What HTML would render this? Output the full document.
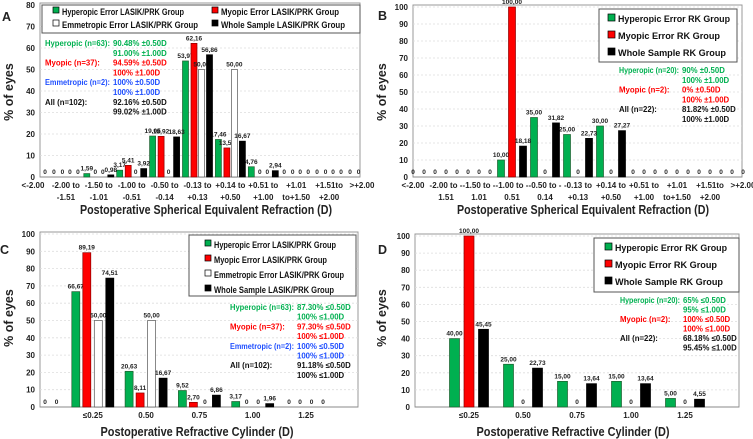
<!DOCTYPE html>
<html><head><meta charset="utf-8">
<style>
html,body{margin:0;padding:0;background:#fff;}
svg{display:block;font-family:"Liberation Sans",sans-serif;}
.tk{font-size:8px;font-weight:bold;fill:#222;}
.vl{font-size:6.5px;font-weight:bold;fill:#222;}
.ttl{font-size:12.5px;font-weight:bold;fill:#222;}
.lg{font-size:9.5px;font-weight:bold;fill:#111;}
.an{font-size:7.8px;font-weight:bold;}
</style></head>
<body>
<svg id="chart" width="753" height="439" viewBox="0 0 753 439"></svg>
<script>
// ---- Data ----
const catsSE = ["<-2.00","-2.00 to|-1.51","-1.50 to|-1.01","-1.00 to|-0.51","-0.50 to|-0.14","-0.13 to|+0.13","+0.14 to|+0.50","+0.51 to|+1.00","+1.01|to+1.50","+1.51to|+2.00",">+2.00"];
const catsSEb = ["<-2.00","-2.00 to -|1.51","-1.50 to -|1.01","-1.00 to -|0.51","-0.50 to -|0.14","-0.13 to|+0.13","+0.14 to|+0.50","+0.51 to|+1.00","+1.01|to+1.50","+1.51to|+2.00",">+2.00"];
const catsCyl = ["","≤0.25","0.50","0.75","1.00","1.25"];
const catsCylD = ["","≤0.25","0.50","0.75","1.00","1.25"];
const ticksA = [0,10,20,30,40,50,60,70,80];
const ticks100 = [0,10,20,30,40,50,60,70,80,90,100];

const aHyper = [0,0,1.59,3.17,19.05,53.97,17.46,4.76,0,0,0];
const aMyop  = [0,0,0,5.41,18.92,62.16,13.51,0,0,0,0];
const aEmm   = [0,0,0,0,0,50.00,50.00,0,0,0,0];
const aAll   = [0,0,0.98,3.92,18.63,56.86,16.67,2.94,0,0,0];

const bHyper = [0,0,0,10.00,35.00,25.00,30.00,0,0,0,0];
const bMyop  = [0,0,0,100.00,0,0,0,0,0,0,0];
const bAll   = [0,0,0,18.18,31.82,22.73,27.27,0,0,0,0];

const cHyper = [0,66.67,20.63,9.52,3.17,0];
const cMyop  = [0,89.19,8.11,2.70,0,0];
const cEmm   = [0,50.00,50.00,0,0,0];
const cAll   = [0,74.51,16.67,6.86,1.96,0];

const dHyper = [null,40.00,25.00,15.00,15.00,5.00];
const dMyop  = [null,100.00,0,0,0,0];
const dAll   = [null,45.45,22.73,13.64,13.64,4.55];

const NS="http://www.w3.org/2000/svg";
const svg=document.getElementById('chart');
function mk(tag,attrs,parent,text){const e=document.createElementNS(NS,tag);for(const k in attrs)e.setAttribute(k,attrs[k]);if(text!==undefined)e.textContent=text;(parent||svg).appendChild(e);return e;}
function fmt(v){return v===0?"0":v.toFixed(2).replace('.',',');}
function fit(el,maxw){const w=el.getComputedTextLength();if(w>maxw){el.setAttribute('textLength',maxw);el.setAttribute('lengthAdjust','spacingAndGlyphs');}}
const COL={g:"#00b050",r:"#ff0000",w:"#ffffff",k:"#000000"};
const STR={g:"#1f5f2f",r:"#8b0000",w:"#555",k:"#000"};

function panel(p){
  const g=mk('g',{});
  
  
  const ymap=v=>p.y0-(v/p.ymax)*(p.y0-p.y1);
  const xmap=i=>p.c0+i*p.cw;
  const fr=mk('rect',{x:p.xl,y:p.y1-2,width:p.xr-p.xl,height:p.y0-p.y1+2,fill:'none',stroke:'#999','stroke-width':1},g);
  
  p.ticks.forEach(t=>{
    const y=ymap(t);
    if(t>0){const gl=mk('line',{x1:p.xl,x2:p.xr,y1:y,y2:y,stroke:'#ddd','stroke-width':0.8,'stroke-dasharray':'2,2'},g);
      }
    const tl=mk('text',{x:p.xl-5,y:y+3,'text-anchor':'end',class:'tk','font-size':'9'},g,String(t));
    
  });
  const ax=mk('line',{x1:p.xl,x2:p.xr,y1:p.y0,y2:p.y0,stroke:'#888','stroke-width':1},g);
  
  p.cats.forEach((c,i)=>{
    const x=xmap(i);
    c.split('|').forEach((s,j)=>{
      const t=mk('text',{x:x,y:p.y0+11+j*12,'text-anchor':'middle',class:'tk','font-size':p.xfs||8},g,s);
      
    });
  });
  p.series.forEach((s,si)=>{
    s.data.forEach((v,i)=>{
      if(v===null)return;
      const cx=xmap(i)+p.offs[si];
      if(cx<p.xl-1||cx>p.xr+1)return;
      const yt=ymap(v);
      if(v>0){const r=mk('rect',{x:cx-p.bw/2,y:yt,width:p.bw,height:p.y0-yt,fill:COL[s.c],stroke:STR[s.c],'stroke-width':0.7},g);
        }
      const l=mk('text',{x:cx,y:yt-3,'text-anchor':'middle',class:'vl'},g,fmt(v));
      
    });
  });
  const yt=mk('text',{x:p.ytx,y:p.yty,'text-anchor':'middle',class:'ttl',transform:'rotate(-90 '+p.ytx+' '+p.yty+')'},g,'% of eyes');
  
  const xt=mk('text',{x:p.xtx,y:p.xty,'text-anchor':'middle',class:'ttl',textLength:p.xtl,lengthAdjust:'spacingAndGlyphs'},g,p.xtitle);
  
  const pl=mk('text',{x:p.lx,y:p.ly,class:'ttl','font-size':'17'},g,p.letter);
  
  const L=p.leg;
  const lb=mk('rect',{x:L.x,y:L.y,width:L.w,height:L.h,fill:'#fff',stroke:'#555','stroke-width':1},g);
  
  L.items.forEach(it=>{
    const sw=mk('rect',{x:it[0],y:it[1]-7,width:L.sw,height:L.sw,fill:COL[it[2]],stroke:'#000','stroke-width':0.7},g);
    
    const tx=mk('text',{x:it[0]+L.sw+3,y:it[1]+1,class:'lg','font-size':L.fs,textLength:it[4],lengthAdjust:'spacingAndGlyphs'},g,it[3]);
    
  });
  const colMap={g:'#00b050',r:'#ff0000',b:'#1f4fff',k:'#111'};
  p.ann.rows.forEach((r,i)=>{
    const y=p.ann.y+i*p.ann.dy;
    if(r[0]){const a=mk('text',{x:p.ann.x1,y:y,class:'an',fill:colMap[r[2]]},g,r[0]);fit(a,p.ann.x2-p.ann.x1-3);}
    const b=mk('text',{x:p.ann.x2,y:y,class:'an',fill:colMap[r[2]]},g,r[1]);
  });
}

panel({name:'panel-a',letter:'A',lx:2,ly:21,xl:40,xr:360,y0:177,y1:5,ymax:80,ticks:ticksA,c0:33,cw:32.9,cats:catsSE,
  bw:6,offs:[-12,-3.5,4,12],
  series:[{data:aHyper,c:'g',key:'hyperopic'},{data:aMyop,c:'r',key:'myopic'},{data:aEmm,c:'w',key:'emmetropic'},{data:aAll,c:'k',key:'whole'}],
  ytx:13,yty:92,xtx:206,xty:214,xtl:252,xtitle:'Postoperative Spherical Equivalent Refraction (D)',
  leg:{x:42,y:5,w:318,h:28,sw:6,fs:9,items:[[53,14,'g','Hyperopic Error LASIK/PRK Group',122],[212,14,'r','Myopic Error LASIK/PRK Group',118],[53,27,'w','Emmetropic Error LASIK/PRK Group',136],[212,27,'k','Whole Sample LASIK/PRK Group',124]]},
  ann:{x1:45,x2:113,y:46,dy:9.8,rows:[['Hyperopic (n=63):','90.48% ±0.50D','g'],['','91.00% ±1.00D','g'],['Myopic (n=37):','94.59% ±0.50D','r'],['','100% ±1.00D','r'],['Emmetropic (n=2):','100% ±0.50D','b'],['','100% ±1.00D','b'],['All (n=102):','92.16% ±0.50D','k'],['','99.02% ±1.00D','k']]}
});
panel({name:'panel-b',letter:'B',lx:378,ly:20,xl:413,xr:742,y0:177,y1:7,ymax:100,ticks:ticks100,c0:413,cw:33,cats:catsSEb,
  bw:7,offs:[-11,0,11],
  series:[{data:bHyper,c:'g',key:'hyperopic'},{data:bMyop,c:'r',key:'myopic'},{data:bAll,c:'k',key:'whole'}],
  ytx:386,yty:92,xtx:583,xty:214,xtl:252,xtitle:'Postoperative Spherical Equivalent Refraction (D)',
  leg:{x:599,y:9,w:138,h:53,sw:7,fs:10.5,items:[[608,21,'g','Hyperopic Error RK Group',112],[608,38,'r','Myopic Error RK Group',102],[608,55,'k','Whole Sample RK Group',108]]},
  ann:{x1:619,x2:682,y:73,dy:9.8,rows:[['Hyperopic (n=20):','90% ±0.50D','g'],['','100% ±1.00D','g'],['Myopic (n=2):','0% ±0.50D','r'],['','100% ±1.00D','r'],['All (n=22):','81.82% ±0.50D','k'],['','100% ±1.00D','k']]}
});
panel({name:'panel-c',letter:'C',lx:0,ly:254,xl:40,xr:358,y0:407,y1:234,ymax:100,ticks:ticks100,c0:39.5,cw:53.3,cats:catsCyl,xfs:9,
  bw:8,offs:[-17,-6,5.5,17],
  series:[{data:cHyper,c:'g',key:'hyperopic'},{data:cMyop,c:'r',key:'myopic'},{data:cEmm,c:'w',key:'emmetropic'},{data:cAll,c:'k',key:'whole'}],
  ytx:13,yty:318,xtx:197,xty:436,xtl:193,xtitle:'Postoperative Refractive Cylinder (D)',
  leg:{x:189,y:235,w:167,h:61,sw:6,fs:9,items:[[205,247,'g','Hyperopic Error LASIK/PRK Group',122],[205,262,'r','Myopic Error LASIK/PRK Group',113],[205,277,'w','Emmetropic Error LASIK/PRK Group',130],[205,292,'k','Whole Sample LASIK/PRK Group',120]]},
  ann:{x1:230,x2:297,y:310,dy:9.7,rows:[['Hyperopic (n=63):','87.30% ≤0.50D','g'],['','100% ≤1.00D','g'],['Myopic (n=37):','97.30% ≤0.50D','r'],['','100% ≤1.00D','r'],['Emmetropic (n=2):','100% ≤0.50D','b'],['','100% ≤1.00D','b'],['All (n=102):','91.18% ≤0.50D','k'],['','100% ≤1.00D','k']]}
});
panel({name:'panel-d',letter:'D',lx:378,ly:254,xl:415,xr:739,y0:407,y1:236,ymax:100,ticks:ticks100,c0:415,cw:54,cats:catsCylD,xfs:9,
  bw:10,offs:[-14.5,0,14.5],
  series:[{data:dHyper,c:'g',key:'hyperopic'},{data:dMyop,c:'r',key:'myopic'},{data:dAll,c:'k',key:'whole'}],
  ytx:386,yty:318,xtx:573,xty:436,xtl:193,xtitle:'Postoperative Refractive Cylinder (D)',
  leg:{x:594,y:238,w:145,h:54,sw:7,fs:10.5,items:[[605,250,'g','Hyperopic Error RK Group',112],[605,267,'r','Myopic Error RK Group',102],[605,284,'k','Whole Sample RK Group',108]]},
  ann:{x1:620,x2:683,y:303,dy:9.5,rows:[['Hyperopic (n=20):','65% ≤0.50D','g'],['','95% ≤1.00D','g'],['Myopic (n=2):','100% ≤0.50D','r'],['','100% ≤1.00D','r'],['All (n=22):','68.18% ≤0.50D','k'],['','95.45% ≤1.00D','k']]}
});
</script>
</body></html>
